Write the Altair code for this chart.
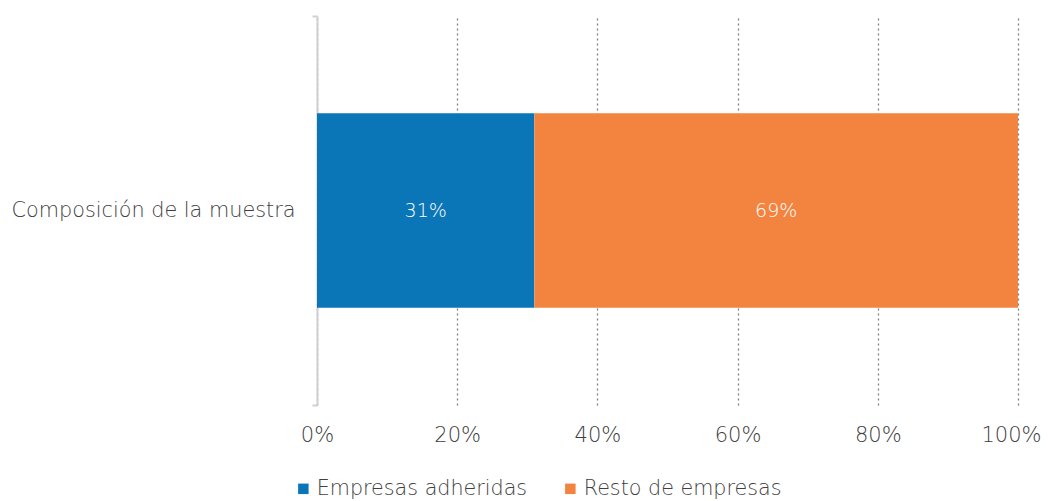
import altair as alt
import pandas as pd

categories = ["Composición de la muestra", "Composición de la muestra"]
series = ["Empresas adheridas", "Resto de empresas"]
values = [31, 69]
order = [0, 1]
colors = ["#0B76B7", "#F2843F"]
ticks = [0, 20, 40, 60, 80, 100]

df = pd.DataFrame({"cat": categories, "serie": series, "valor": values, "orden": order})

FONT = "DejaVu Sans"
FW = 200
TXT = "#404040"

base = alt.Chart(df).transform_stack(
    stack="valor", groupby=["cat"], as_=["v0", "v1"], sort=[alt.SortField("orden")]
).transform_calculate(mid="(datum.v0 + datum.v1) / 2", lbl="datum.valor + '%'")

y_enc = alt.Y(
    "cat:N",
    title=None,
    scale=alt.Scale(paddingInner=0, paddingOuter=0),
    axis=alt.Axis(
        domain=True, domainColor="#D0D0D0", domainWidth=2,
        ticks=True, tickBand="extent", tickColor="#D0D0D0", tickWidth=2, tickSize=5,
        labelFont=FONT, labelFontWeight=FW, labelFontSize=20.8, labelColor=TXT,
        labelPadding=17, labelLimit=0,
        grid=False,
    ),
)

bars = base.mark_bar(stroke=None, height=alt.RelativeBandSize(0.5)).encode(
    y=y_enc,
    x=alt.X(
        "v0:Q",
        title=None,
        scale=alt.Scale(domain=[0, 100], nice=False),
        axis=alt.Axis(
            values=ticks, labelExpr="datum.value + '%'",
            domain=False, ticks=False, labelFlush=False, labelOverlap=False,
            labelOffset=alt.expr("datum.value == 100 ? -7 : 0"),
            grid=True, gridColor="#7F7F7F", gridDash=[2, 3], gridWidth=1.3,
            labelFont=FONT, labelFontWeight=FW, labelFontSize=21, labelColor=TXT,
            labelPadding=19,
        ),
    ),
    x2="v1:Q",
    color=alt.Color(
        "serie:N",
        scale=alt.Scale(domain=series, range=colors),
        legend=alt.Legend(
            title=None, orient="none", direction="horizontal",
            legendX=-24, legendY=462, padding=0,
            symbolType="square", symbolSize=110, symbolStrokeWidth=0,
            labelFont=FONT, labelFontWeight=FW, labelFontSize=20.7, labelColor=TXT,
            labelOffset=3, labelLimit=0, columnPadding=32,
        ),
    ),
    order=alt.Order("orden:Q"),
)

labels = base.mark_text(font=FONT, fontWeight=FW, fontSize=19, color="white").encode(
    y=alt.Y("cat:N"),
    x=alt.X("mid:Q"),
    text="lbl:N",
)

chart = alt.layer(bars, labels).properties(
    width=701, height=389,
    autosize=alt.AutoSizeParams(type="none"),
    padding={"left": 309, "top": 8, "right": 23, "bottom": 96},
).configure_view(stroke=None)

chart.save("out.html", embed_options={"renderer": "svg", "actions": False})
